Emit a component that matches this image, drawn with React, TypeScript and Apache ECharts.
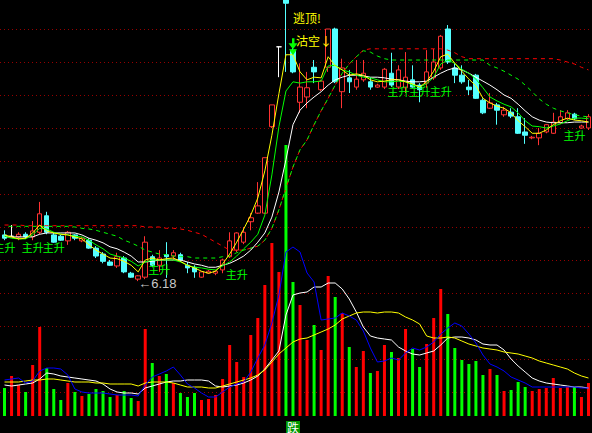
import { useEffect, useRef } from 'react';
import * as echarts from 'echarts';

// ---- daily bars ----
const days = Array.from({ length: 84 }, (_, i) => `D${i + 1}`);

const opens = [
  6.88, 6.86, 6.85, 6.89, 6.85, 6.92, 7.17, 6.88, 6.86, 6.79,
  6.88, 6.79, 6.80, 6.68, 6.59, 6.47, 6.41, 6.53, 6.30, 6.21,
  6.24, 6.55, 6.42, 6.58, 6.56, 6.58, 6.42, 6.39, 6.24, 6.30,
  6.30, 6.35, 6.55, 6.65, 6.77, 7.08, 7.21, 7.21, 8.52, 9.73,
  10.50, 9.68, 8.89, 8.97, 9.42, 9.08, 9.42, 10.00, 9.05, 9.26,
  9.12, 9.23, 9.20, 9.12, 9.12, 9.33, 9.12, 9.11, 9.23, 9.15,
  9.18, 9.26, 9.41, 10.00, 9.41, 9.30, 9.12, 9.30, 8.92, 8.80,
  8.85, 8.70, 8.74, 8.67, 8.44, 8.35, 8.35, 8.44, 8.42, 8.58,
  8.64, 8.71, 8.50, 8.50,
];
const closes = [
  6.83, 6.86, 6.89, 6.85, 6.94, 7.20, 6.92, 6.77, 6.80, 6.92,
  6.83, 6.83, 6.68, 6.56, 6.48, 6.42, 6.55, 6.32, 6.24, 6.26,
  6.77, 6.42, 6.53, 6.55, 6.61, 6.50, 6.38, 6.32, 6.32, 6.33,
  6.33, 6.50, 6.79, 6.91, 6.92, 7.14, 7.32, 8.05, 8.85, 9.73,
  10.39, 9.35, 9.12, 9.11, 9.35, 9.21, 10.00, 9.20, 9.41, 9.20,
  9.24, 9.33, 9.12, 9.15, 9.39, 9.15, 9.38, 9.27, 9.12, 9.08,
  9.35, 9.50, 9.89, 9.50, 9.30, 9.20, 9.08, 8.95, 8.73, 8.88,
  8.77, 8.77, 8.68, 8.42, 8.39, 8.36, 8.42, 8.55, 8.59, 8.67,
  8.73, 8.64, 8.53, 8.67,
];
const highs = [
  6.95, 7.03, 6.92, 6.92, 7.09, 7.38, 7.23, 6.91, 6.88, 6.94,
  6.89, 6.85, 6.83, 6.71, 6.62, 6.50, 6.61, 6.56, 6.32, 6.27,
  6.86, 6.58, 6.65, 6.77, 6.65, 6.61, 6.47, 6.42, 6.33, 6.35,
  6.35, 6.52, 6.92, 6.92, 7.00, 7.21, 7.68, 8.05, 8.85, 9.73,
  10.70, 9.71, 9.48, 9.35, 9.53, 9.23, 10.00, 10.02, 9.55, 9.38,
  9.53, 9.53, 9.27, 9.17, 9.41, 9.64, 9.45, 9.65, 9.45, 9.18,
  9.68, 9.70, 9.91, 10.06, 9.48, 9.45, 9.23, 9.32, 8.95, 9.03,
  8.88, 8.82, 8.80, 8.80, 8.65, 8.38, 8.50, 8.56, 8.73, 8.77,
  8.77, 8.73, 8.55, 8.71,
];
const lows = [
  6.80, 6.85, 6.80, 6.82, 6.80, 6.89, 6.89, 6.76, 6.79, 6.73,
  6.80, 6.77, 6.67, 6.53, 6.45, 6.41, 6.38, 6.30, 6.23, 6.18,
  6.21, 6.39, 6.32, 6.23, 6.50, 6.47, 6.30, 6.23, 6.23, 6.29,
  6.27, 6.30, 6.53, 6.62, 6.74, 6.95, 7.20, 7.20, 8.50, 9.27,
  9.35, 9.33, 8.73, 8.80, 9.18, 9.06, 9.35, 9.18, 8.80, 9.03,
  9.08, 9.20, 9.08, 9.11, 9.09, 9.12, 9.09, 9.03, 9.11, 8.89,
  9.11, 9.23, 9.38, 9.47, 9.18, 9.17, 9.00, 8.94, 8.71, 8.79,
  8.55, 8.67, 8.65, 8.41, 8.26, 8.33, 8.24, 8.42, 8.41, 8.56,
  8.62, 8.62, 8.49, 8.47,
];
const volumes = [
  28, 40, 31, 24, 51, 89, 48, 27, 16, 33,
  24, 20, 22, 27, 25, 19, 21, 25, 18, 15,
  87, 53, 40, 42, 33, 23, 19, 23, 16, 17,
  21, 37, 71, 54, 39, 81, 98, 131, 173, 144,
  271, 134, 111, 76, 91, 66, 140, 119, 103, 69,
  49, 65, 43, 45, 71, 64, 58, 87, 67, 49,
  72, 98, 127, 102, 68, 56, 52, 55, 41, 47,
  41, 25, 26, 34, 29, 25, 27, 28, 38, 28,
  29, 29, 19, 33,
];

// ---- price averages ----
const maWhite = [
  6.85, 6.85, 6.85, 6.85, 6.85, 6.89, 6.91, 6.91, 6.91, 6.91,
  6.91, 6.88, 6.83, 6.80, 6.76, 6.70, 6.67, 6.62, 6.56, 6.47,
  6.47, 6.48, 6.50, 6.50, 6.50, 6.50, 6.47, 6.44, 6.42, 6.39,
  6.39, 6.42, 6.45, 6.50, 6.56, 6.65, 6.77, 6.91, 7.15, 7.53,
  8.02, 8.55, 8.77, 8.88, 8.97, 9.05, 9.15, 9.23, 9.27, 9.30,
  9.30, 9.29, 9.27, 9.27, 9.26, 9.24, 9.23, 9.21, 9.20, 9.20,
  9.21, 9.27, 9.33, 9.38, 9.41, 9.38, 9.33, 9.27, 9.21, 9.15,
  9.08, 9.00, 8.95, 8.86, 8.76, 8.67, 8.62, 8.59, 8.58, 8.58,
  8.58, 8.59, 8.59, 8.59,
];
const maYellow = [
  6.88, 6.85, 6.82, 6.83, 6.91, 7.03, 6.94, 6.91, 6.89, 6.88,
  6.85, 6.82, 6.73, 6.65, 6.59, 6.53, 6.52, 6.48, 6.42, 6.32,
  6.50, 6.53, 6.50, 6.52, 6.53, 6.48, 6.42, 6.38, 6.33, 6.30,
  6.33, 6.44, 6.59, 6.77, 6.97, 7.18, 7.44, 7.85, 8.39, 9.02,
  9.61, 9.61, 9.35, 9.23, 9.27, 9.26, 9.58, 9.44, 9.38, 9.30,
  9.32, 9.30, 9.23, 9.20, 9.21, 9.23, 9.23, 9.20, 9.17, 9.12,
  9.20, 9.36, 9.58, 9.62, 9.48, 9.36, 9.24, 9.14, 8.95, 8.88,
  8.83, 8.80, 8.73, 8.61, 8.52, 8.42, 8.42, 8.47, 8.55, 8.61,
  8.65, 8.62, 8.61, 8.59,
];
const maGreen = [
  6.86, 6.83, 6.82, 6.82, 6.88, 6.98, 6.97, 6.92, 6.89, 6.88,
  6.86, 6.85, 6.80, 6.73, 6.67, 6.59, 6.56, 6.53, 6.48, 6.41,
  6.47, 6.50, 6.50, 6.50, 6.50, 6.47, 6.42, 6.39, 6.38, 6.36,
  6.35, 6.41, 6.47, 6.56, 6.67, 6.77, 6.89, 7.18, 7.79, 8.52,
  9.06, 9.20, 9.18, 9.20, 9.20, 9.21, 9.44, 9.45, 9.38, 9.35,
  9.30, 9.27, 9.26, 9.23, 9.20, 9.20, 9.21, 9.20, 9.15, 9.12,
  9.17, 9.27, 9.47, 9.53, 9.48, 9.39, 9.33, 9.24, 9.11, 8.97,
  8.91, 8.86, 8.82, 8.73, 8.61, 8.53, 8.52, 8.50, 8.53, 8.56,
  8.61, 8.65, 8.65, 8.64,
];
const maGreenDash = [
  7.01, 7.01, 7.01, 7.01, 7.01, 7.01, 7.01, 7.01, 7.01, 7.01,
  7.00, 6.98, 6.97, 6.95, 6.92, 6.89, 6.86, 6.80, 6.76, 6.71,
  6.65, 6.62, 6.59, 6.58, 6.56, 6.55, 6.55, 6.53, 6.53, 6.53,
  6.53, 6.55, 6.56, 6.61, 6.65, 6.68, 6.71, 6.80, 6.98, 7.26,
  7.59, 7.91, 8.17, 8.32, 8.55, 8.76, 8.95, 9.15, 9.33, 9.47,
  9.58, 9.67, 9.65, 9.59, 9.55, 9.53, 9.53, 9.53, 9.53, 9.53,
  9.53, 9.53, 9.53, 9.53, 9.53, 9.53, 9.53, 9.53, 9.53, 9.45,
  9.41, 9.36, 9.30, 9.24, 9.15, 9.05, 8.94, 8.86, 8.80, 8.76,
  8.73, 8.70, 8.68, 8.67,
];
const maRedDash = [
  7.03, 7.03, 7.03, 7.02, 7.02, 7.02, 7.02, 7.02, 7.02, 7.02,
  7.02, 7.02, 7.02, 7.02, 7.02, 7.02, 7.02, 7.02, 7.02, 7.02,
  7.00, 7.00, 7.00, 6.98, 6.98, 6.97, 6.95, 6.92, 6.89, 6.83,
  6.77, 6.71, 6.65, 6.65, 6.65, 6.68, 6.71, 6.80, 6.98, 7.26,
  7.59, 7.91, 8.17, 8.32, 8.55, 8.76, 8.95, 9.15, 9.33, 9.47,
  9.58, 9.68, 9.70, 9.70, 9.70, 9.70, 9.70, 9.70, 9.70, 9.70,
  9.70, 9.70, 9.70, 9.68, 9.64, 9.58, 9.55, 9.55, 9.55, 9.55,
  9.55, 9.55, 9.55, 9.55, 9.55, 9.55, 9.55, 9.55, 9.55, 9.53,
  9.50, 9.47, 9.42, 9.38,
];

// ---- volume averages ----
const volBlue = [
  36, 37, 38, 33, 35, 45, 48, 48, 47, 41,
  27, 24, 23, 23, 23, 22, 21, 21, 21, 20,
  31, 39, 42, 45, 49, 41, 32, 28, 23, 19,
  19, 24, 29, 32, 34, 44, 58, 71, 93, 121,
  164, 169, 164, 143, 134, 96, 97, 98, 103, 100,
  96, 85, 68, 54, 55, 58, 56, 63, 68, 66,
  69, 74, 82, 88, 93, 90, 82, 73, 61, 52,
  49, 45, 39, 36, 33, 29, 29, 29, 29, 29,
  29, 29, 28, 28,
];
const volWhite = [
  31, 30, 31, 32, 33, 37, 43, 42, 40, 39,
  38, 37, 36, 35, 32, 27, 24, 23, 23, 22,
  28, 30, 32, 34, 35, 35, 36, 36, 36, 35,
  30, 29, 30, 31, 33, 36, 40, 47, 56, 65,
  101, 121, 123, 124, 129, 129, 133, 133, 127, 117,
  104, 89, 80, 78, 77, 76, 69, 65, 62, 61,
  63, 65, 71, 78, 79, 79, 78, 76, 72, 71,
  71, 66, 57, 50, 44, 38, 35, 33, 32, 31,
  30, 29, 29, 28,
];
const volYellow = [
  34, 34, 34, 35, 36, 36, 37, 37, 36, 35,
  34, 34, 34, 33, 33, 32, 32, 32, 32, 30,
  33, 34, 34, 34, 33, 31, 29, 29, 29, 28,
  28, 30, 32, 34, 36, 38, 41, 46, 54, 62,
  68, 74, 77, 78, 81, 84, 87, 91, 97, 100,
  103, 104, 104, 103, 104, 104, 103, 99, 96, 92,
  80, 78, 78, 79, 78, 75, 72, 70, 68, 67,
  66, 64, 63, 62, 60, 58, 55, 53, 51, 49,
  47, 43, 40, 38,
];

// ---- signals ----
const riseDays = [0, 4, 7, 22, 33, 56, 59, 62, 81];
const riseLevels = [6.79, 6.79, 6.79, 6.46, 6.38, 9.15, 9.15, 9.15, 8.48];
const riseText = '主升';
const topDay = 41;
const topLevel = 10.27;
const topText = '逃顶!';
const shortDay = 41;
const shortLevel = 9.91;
const shortText = '沽空↓';
const arrowLevel = 9.86;
const lowDay = 19;
const fallDay = 41;
const fallText = '跌';

const RED = '#ff3232';
const CYAN = '#54ffff';
const VOL_UP = '#ff0000';
const VOL_DOWN = '#00ff00';
const CJK = '"Noto Sans CJK SC", sans-serif';

function buildOption(): any {
  const candles = days.map((_, i) => [opens[i], closes[i], lows[i], highs[i]]);
  const volBars = volumes.map((v, i) => ({
    value: v,
    itemStyle: { color: closes[i] >= opens[i] ? VOL_UP : VOL_DOWN },
  }));
  const line = (data: number[], color: string, xi: number, extra: any = {}) => ({
    type: 'line',
    data,
    xAxisIndex: xi,
    yAxisIndex: xi,
    symbol: 'none',
    silent: true,
    lineStyle: { color, width: 1, ...extra },
  });
  return {
    animation: false,
    backgroundColor: '#000000',
    grid: [
      { left: 1, right: 0, top: 0, bottom: 0 },
      { left: 1, right: 0, top: 0, bottom: 17 },
      { left: 0, right: 0, top: 29, bottom: 41 },
    ],
    xAxis: [
      { type: 'category', data: days, gridIndex: 0, show: false },
      { type: 'category', data: days, gridIndex: 1, show: false },
      { type: 'value', gridIndex: 2, show: false, min: 0, max: 1 },
    ],
    yAxis: [
      { type: 'value', gridIndex: 0, show: false, min: 256 / 66, max: 689 / 66 },
      { type: 'value', gridIndex: 1, show: false, min: 0, max: 416 },
      {
        type: 'value',
        gridIndex: 2,
        min: 4.5,
        max: 10,
        interval: 0.5,
        axisLine: { show: false },
        axisTick: { show: false },
        axisLabel: { show: false },
        splitLine: { show: true, lineStyle: { color: '#960000', width: 1, type: [1, 3] } },
      },
    ],
    series: [
      { type: 'line', xAxisIndex: 2, yAxisIndex: 2, data: [], silent: true },
      {
        type: 'bar',
        xAxisIndex: 1,
        yAxisIndex: 1,
        data: volBars,
        barWidth: 3,
        silent: true,
      },
      line(volWhite, '#ffffff', 1),
      line(volYellow, '#ffff00', 1),
      line(volBlue, '#0000ff', 1),
      {
        type: 'candlestick',
        xAxisIndex: 0,
        yAxisIndex: 0,
        data: candles,
        barWidth: 5,
        clip: true,
        silent: true,
        itemStyle: {
          color: '#000000',
          color0: CYAN,
          borderColor: RED,
          borderColor0: CYAN,
          borderColorDoji: '#ffffff',
          borderWidth: 1,
        },
      },
      line(maRedDash, '#ff0000', 0, { type: [4, 4] }),
      line(maGreenDash, '#00ff00', 0, { type: [4, 4], dashOffset: 4 }),
      line(maWhite, '#ffffff', 0),
      line(maGreen, '#00ff00', 0),
      line(maYellow, '#ffff00', 0),
    ],
  };
}

export default function App() {
  const ref = useRef<HTMLDivElement>(null);

  useEffect(() => {
    const el = ref.current;
    if (!el) return;
    const chart = echarts.init(el, undefined, { renderer: 'svg' });
    chart.setOption(buildOption());

    const at = (i: number, p: number) =>
      chart.convertToPixel({ gridIndex: 0 }, [i, p]) as unknown as number[];
    const atVol = (i: number, v: number) =>
      chart.convertToPixel({ gridIndex: 1 }, [i, v]) as unknown as number[];

    const text = (x: number, y: number, t: string, fill: string, font: string, align = 'center', extra: any = {}) => ({
      type: 'text',
      x,
      y,
      silent: true,
      z: 100,
      style: {
        text: t,
        fill,
        font,
        align,
        verticalAlign: 'top',
        textAlign: align,
        textVerticalAlign: 'top',
        ...extra,
      },
    });

    const graphics: any[] = [];
    riseDays.forEach((d, k) => {
      const [x, y] = at(d, riseLevels[k]);
      graphics.push(text(x, y, riseText, '#00ff00', `11px ${CJK}`, 'center', { lineHeight: 12 }));
    });

    const [tx, ty] = at(topDay, topLevel);
    graphics.push(text(tx, ty, topText, '#ffff00', `12px ${CJK}`, 'left'));

    const [sx, sy] = at(shortDay, shortLevel);
    graphics.push(text(sx + 3, sy, shortText, '#ffff00', `12px ${CJK}`, 'left'));

    const [ax, ay] = at(shortDay, arrowLevel);
    const arrowStyle = { fill: '#00ff00' };
    graphics.push(
      { type: 'rect', silent: true, z: 101, shape: { x: ax - 1, y: ay, width: 2.5, height: 6 }, style: arrowStyle },
      { type: 'polygon', silent: true, z: 101, shape: { points: [[ax - 4.5, ay + 5], [ax + 4.5, ay + 5], [ax, ay + 11]] }, style: arrowStyle },
      { type: 'polygon', silent: true, z: 101, shape: { points: [[ax - 4, ay + 11], [ax + 4, ay + 11], [ax, ay + 17]] }, style: arrowStyle },
    );

    const [lx, ly] = at(lowDay, lows[lowDay]);
    graphics.push({
      type: 'text',
      x: lx,
      y: ly + 2,
      silent: true,
      z: 100,
      style: {
        text: `←${lows[lowDay].toFixed(2)}`,
        fill: '#c8c8c8',
        font: '13px "Liberation Sans", "DejaVu Sans", sans-serif',
        lineHeight: 12,
        align: 'left',
        verticalAlign: 'middle',
        textAlign: 'left',
        textVerticalAlign: 'middle',
      },
    });

    const [fx, fy] = atVol(fallDay, 0);
    graphics.push(
      text(fx, fy + 5, fallText, '#ffffff', `12px ${CJK}`, 'center', {
        backgroundColor: '#009600',
        padding: [0, 1, 0, 1],
        lineHeight: 12,
      }),
    );

    chart.setOption({ graphic: graphics });
    return () => chart.dispose();
  }, []);

  return (
    <div
      ref={ref}
      style={{ position: 'fixed', left: 0, top: 0, width: 592, height: 433, background: '#000' }}
    />
  );
}
